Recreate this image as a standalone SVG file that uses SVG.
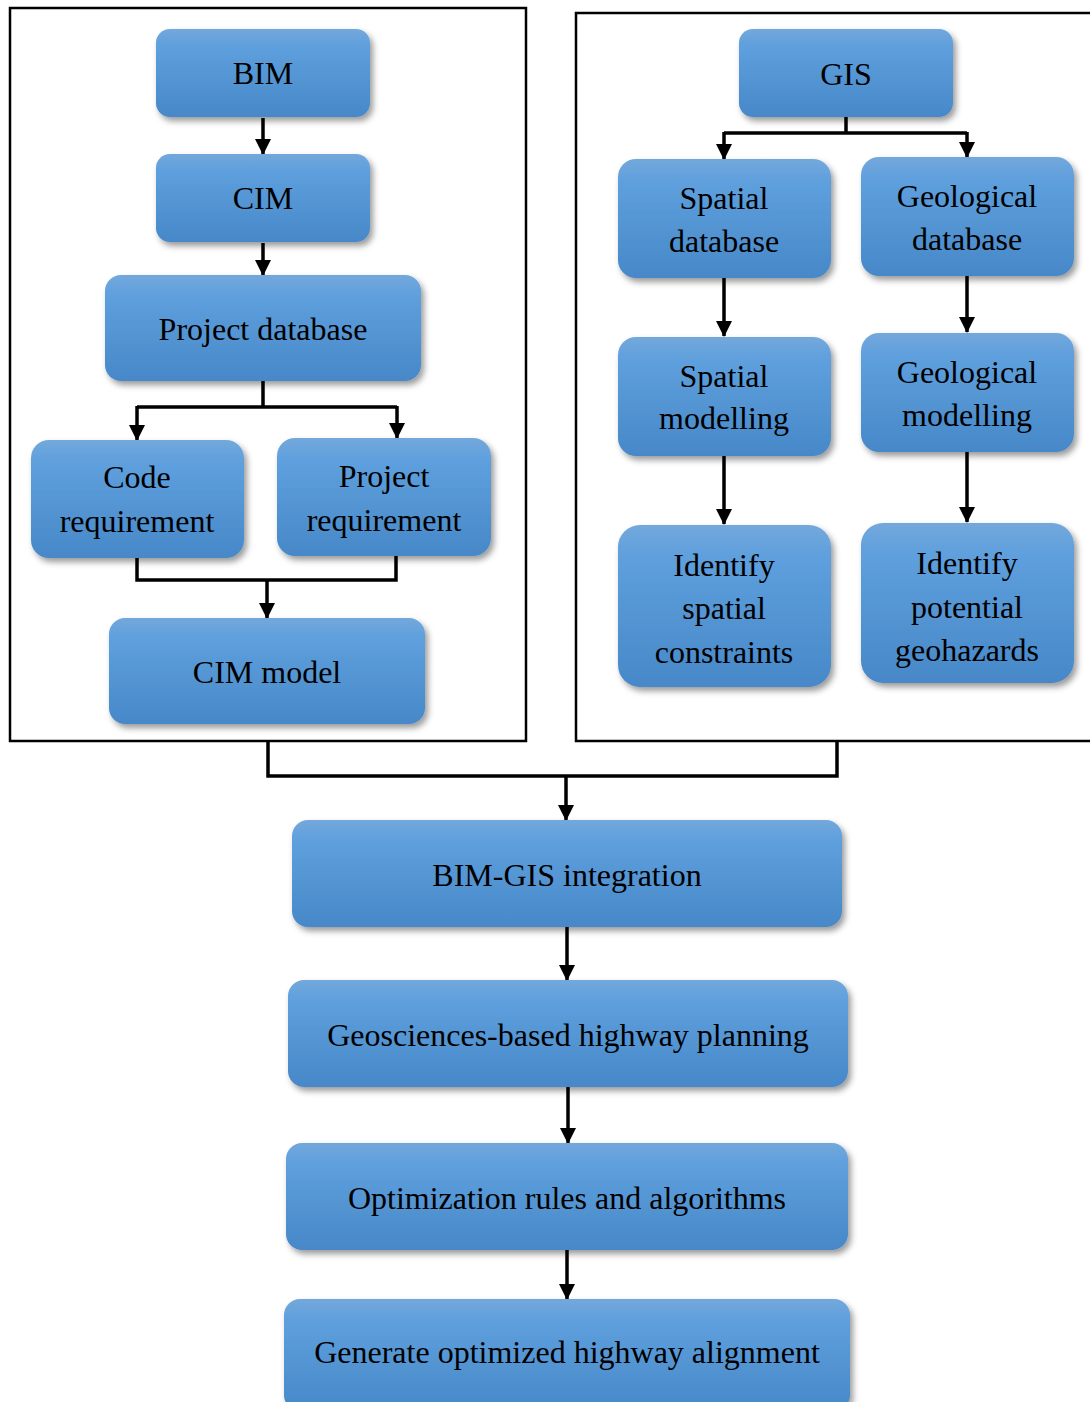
<svg xmlns="http://www.w3.org/2000/svg" width="1090" height="1402" viewBox="0 0 1090 1402">
<style>
.box{fill:url(#g);filter:url(#sh)}
.t{font-family:"Liberation Serif","Times New Roman",serif;font-size:32px;fill:#000;text-anchor:middle}
.c{fill:none;stroke:#000;stroke-width:3.5}
.f{fill:none;stroke:#000;stroke-width:2.5}
</style>
<defs>
<linearGradient id="g" x1="0" y1="0" x2="0" y2="1">
<stop offset="0" stop-color="#73A8DC"/>
<stop offset="0.2" stop-color="#5E9FDD"/>
<stop offset="1" stop-color="#4788C8"/>
</linearGradient>
<filter id="sh" x="-10%" y="-10%" width="125%" height="135%">
<feDropShadow dx="3" dy="4" stdDeviation="3" flood-color="#000" flood-opacity="0.4"/>
</filter>
<marker id="a" markerUnits="userSpaceOnUse" markerWidth="16" markerHeight="16" refX="15" refY="8" orient="auto" viewBox="0 0 16 16">
<path d="M0,0 L16,8 L0,16 Z" fill="#000"/>
</marker>
</defs>
<rect width="1090" height="1402" fill="#fff"/>
<g id="frames">
<rect class="f" x="10" y="8" width="516" height="733"/>
<rect class="f" x="576" y="13" width="520" height="728"/>
</g>
<g id="connectors">
<path class="c" d="M263,118 V154" marker-end="url(#a)"/>
<path class="c" d="M263,243 V275" marker-end="url(#a)"/>
<path class="c" d="M263,381 V407 M137,407 H397"/>
<path class="c" d="M137,406 V440" marker-end="url(#a)"/>
<path class="c" d="M397,406 V438" marker-end="url(#a)"/>
<path class="c" d="M137,558 V580 H396 V556"/>
<path class="c" d="M267,580 V618" marker-end="url(#a)"/>
<path class="c" d="M846,117 V133 M724,133 H967"/>
<path class="c" d="M724,132 V159" marker-end="url(#a)"/>
<path class="c" d="M967,132 V157" marker-end="url(#a)"/>
<path class="c" d="M724,278 V336" marker-end="url(#a)"/>
<path class="c" d="M967,276 V332" marker-end="url(#a)"/>
<path class="c" d="M724,456 V524" marker-end="url(#a)"/>
<path class="c" d="M967,452 V522" marker-end="url(#a)"/>
<path class="c" d="M268,741 V776 H837 V741"/>
<path class="c" d="M566,776 V820" marker-end="url(#a)"/>
<path class="c" d="M567,927 V980" marker-end="url(#a)"/>
<path class="c" d="M568,1087 V1143" marker-end="url(#a)"/>
<path class="c" d="M567,1250 V1299" marker-end="url(#a)"/>
</g>
<g id="bim"><rect class="box" x="156" y="29" width="214" height="88" rx="14"/><text class="t" x="263" y="84">BIM</text></g>
<g id="cim"><rect class="box" x="156" y="154" width="214" height="88" rx="14"/><text class="t" x="263" y="209">CIM</text></g>
<g id="projdb"><rect class="box" x="105" y="275" width="316" height="106" rx="16"/><text class="t" x="263" y="340">Project database</text></g>
<g id="codereq"><rect class="box" x="31" y="440" width="213" height="118" rx="18"/><text class="t" x="137" y="488">Code</text><text class="t" x="137" y="532">requirement</text></g>
<g id="projreq"><rect class="box" x="277" y="438" width="214" height="118" rx="18"/><text class="t" x="384" y="487">Project</text><text class="t" x="384" y="531">requirement</text></g>
<g id="cimmodel"><rect class="box" x="109" y="618" width="316" height="106" rx="16"/><text class="t" x="267" y="683">CIM model</text></g>
<g id="gis"><rect class="box" x="739" y="29" width="214" height="88" rx="14"/><text class="t" x="846" y="85">GIS</text></g>
<g id="spatialdb"><rect class="box" x="618" y="159" width="213" height="119" rx="18"/><text class="t" x="724" y="209">Spatial</text><text class="t" x="724" y="252">database</text></g>
<g id="geodb"><rect class="box" x="861" y="157" width="213" height="119" rx="18"/><text class="t" x="967" y="207">Geological</text><text class="t" x="967" y="250">database</text></g>
<g id="spatialmod"><rect class="box" x="618" y="337" width="213" height="119" rx="18"/><text class="t" x="724" y="387">Spatial</text><text class="t" x="724" y="429">modelling</text></g>
<g id="geomod"><rect class="box" x="861" y="333" width="213" height="119" rx="18"/><text class="t" x="967" y="383">Geological</text><text class="t" x="967" y="426">modelling</text></g>
<g id="idspatial"><rect class="box" x="618" y="525" width="213" height="162" rx="22"/><text class="t" x="724" y="576">Identify</text><text class="t" x="724" y="619">spatial</text><text class="t" x="724" y="663">constraints</text></g>
<g id="idgeo"><rect class="box" x="861" y="523" width="213" height="160" rx="22"/><text class="t" x="967" y="574">Identify</text><text class="t" x="967" y="618">potential</text><text class="t" x="967" y="661">geohazards</text></g>
<g id="integration"><rect class="box" x="292" y="820" width="550" height="107" rx="16"/><text class="t" x="567" y="886">BIM-GIS integration</text></g>
<g id="planning"><rect class="box" x="288" y="980" width="560" height="107" rx="16"/><text class="t" x="568" y="1046">Geosciences-based highway planning</text></g>
<g id="optimization"><rect class="box" x="286" y="1143" width="562" height="107" rx="16"/><text class="t" x="567" y="1209">Optimization rules and algorithms</text></g>
<g id="generate"><rect class="box" x="284" y="1299" width="566" height="112" rx="16"/><text class="t" x="567" y="1363">Generate optimized highway alignment</text></g>
</svg>
